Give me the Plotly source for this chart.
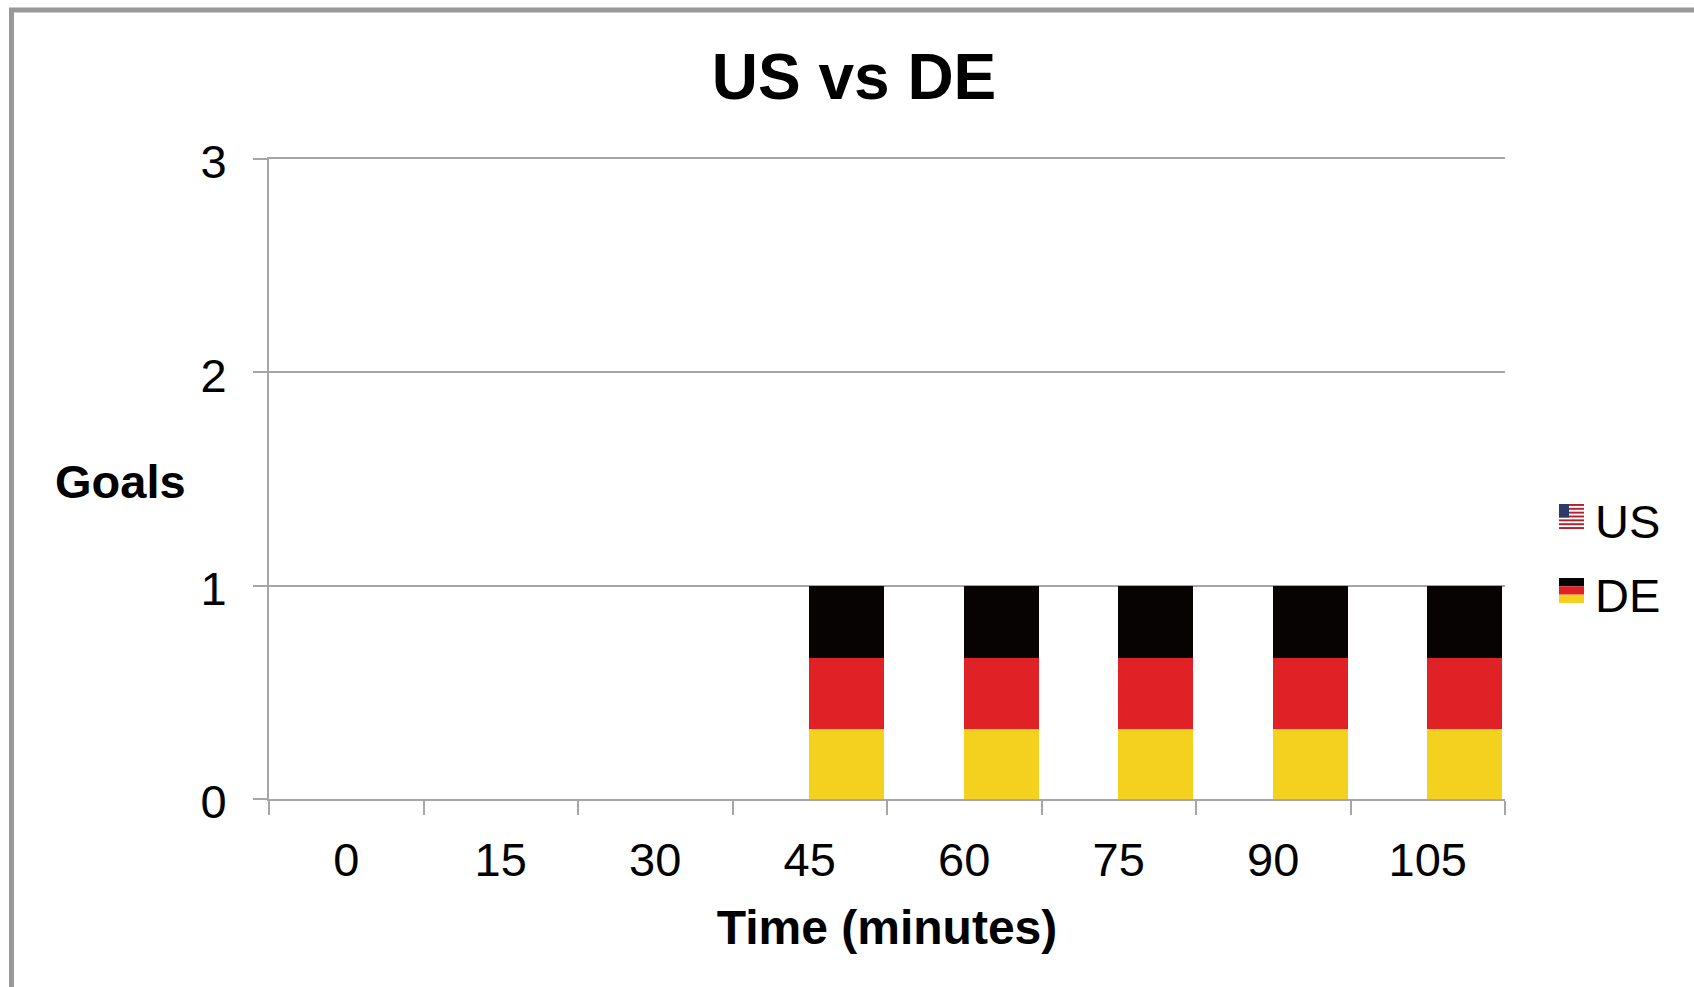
import plotly.graph_objects as go

W, H = 1694, 987
L, R, T, B = 269, 1505, 159, 799

minutes = ["0", "15", "30", "45", "60", "75", "90", "105"]
us_goals = [0, 0, 0, 0, 0, 0, 0, 0]
de_yellow = [0, 0, 0, 0.33, 0.33, 0.33, 0.33, 0.33]
de_red = [0, 0, 0, 0.33, 0.33, 0.33, 0.33, 0.33]
de_black = [0, 0, 0, 0.34, 0.34, 0.34, 0.34, 0.34]

BLACK, RED, YELLOW = "#070303", "#e02227", "#f4d01f"
GREY = "#a6a6a6"
FONT = "Liberation Sans, Arial, sans-serif"
BAR_W = 0.487
BAR_OFF = -0.004


def px(x):
    return (x - L) / (R - L)


def py(y):
    return (B - y) / (B - T)


def rect(x0, y0, x1, y1, fill):
    return dict(type="rect", xref="paper", yref="paper", x0=px(x0), x1=px(x1), y0=py(y0), y1=py(y1),
                fillcolor=fill, line_width=0, layer="above")


fig = go.Figure()
fig.add_bar(x=minutes, y=us_goals, name="US", width=BAR_W, offset=-BAR_W, marker=dict(color="#b5202f", line_width=0))
for name, vals, col in (("DE", de_yellow, YELLOW), ("DE", de_red, RED), ("DE", de_black, BLACK)):
    fig.add_bar(x=minutes, y=vals, name=name, width=BAR_W, offset=BAR_OFF, marker=dict(color=col, line_width=0))

shapes = [dict(type="rect", xref="paper", yref="paper", x0=px(11.5), x1=px(1800), y0=py(10), y1=py(1100),
               line=dict(color="#999999", width=5), fillcolor="rgba(0,0,0,0)", layer="below")]

# legend flags
fx0, fx1, uy0, uy1 = 1559, 1584, 504, 529
shapes.append(rect(fx0, uy0, fx1, uy1, "#ffffff"))
h = (uy1 - uy0) / 13
for i in range(0, 13, 2):
    shapes.append(rect(fx0, uy0 + i * h, fx1, uy0 + (i + 1) * h, "#b5202f"))
shapes.append(rect(fx0, uy0, fx0 + 10, uy0 + 7 * h, "#2b3a6b"))
dy0 = 578
for i, c in enumerate((BLACK, RED, YELLOW)):
    shapes.append(rect(fx0, dy0 + i * 25 / 3, fx1, dy0 + (i + 1) * 25 / 3, c))

annotations = [
    dict(text="<b>Goals</b>", xref="paper", yref="paper", x=px(120), y=py(481), xanchor="center", yanchor="middle",
         showarrow=False, font=dict(size=47, color="#000000")),
    dict(text="US", xref="paper", yref="paper", x=px(1593), y=py(521), xanchor="left", yanchor="middle",
         showarrow=False, font=dict(size=47, color="#000000")),
    dict(text="DE", xref="paper", yref="paper", x=px(1593), y=py(595), xanchor="left", yanchor="middle",
         showarrow=False, font=dict(size=47, color="#000000")),
]

fig.update_layout(
    width=W, height=H, autosize=False, margin=dict(l=L, r=W - R, t=T, b=H - B, pad=0),
    barmode="stack", showlegend=False, paper_bgcolor="white", plot_bgcolor="white",
    font=dict(family=FONT, color="#000000", size=47),
    title=dict(text="<b>US vs DE</b>", font=dict(size=64), x=854 / W, xanchor="center", y=1 - 77 / H, yanchor="middle"),
    shapes=shapes, annotations=annotations,
    xaxis=dict(type="category", categoryorder="array", categoryarray=minutes, tickson="boundaries",
               ticks="outside", ticklen=14, tickwidth=2, tickcolor=GREY, showline=True, linecolor=GREY, linewidth=2,
               mirror=True, showgrid=False, tickfont=dict(size=47), ticklabelstandoff=19,
               title=dict(text="<b>Time (minutes)</b>", font=dict(size=48), standoff=25)),
    yaxis=dict(range=[0, 3], tickvals=[0, 1, 2, 3], ticks="outside", ticklen=14, tickwidth=2, tickcolor=GREY,
               showline=True, linecolor=GREY, linewidth=2, showgrid=True, gridcolor=GREY, gridwidth=2, zeroline=False,
               tickfont=dict(size=47), ticklabelstandoff=17, ticklabelshift=3),
)

fig.write_html("out.html", config={"displayModeBar": False},
               post_script="document.body.style.margin='0';document.body.style.overflow='hidden';")
